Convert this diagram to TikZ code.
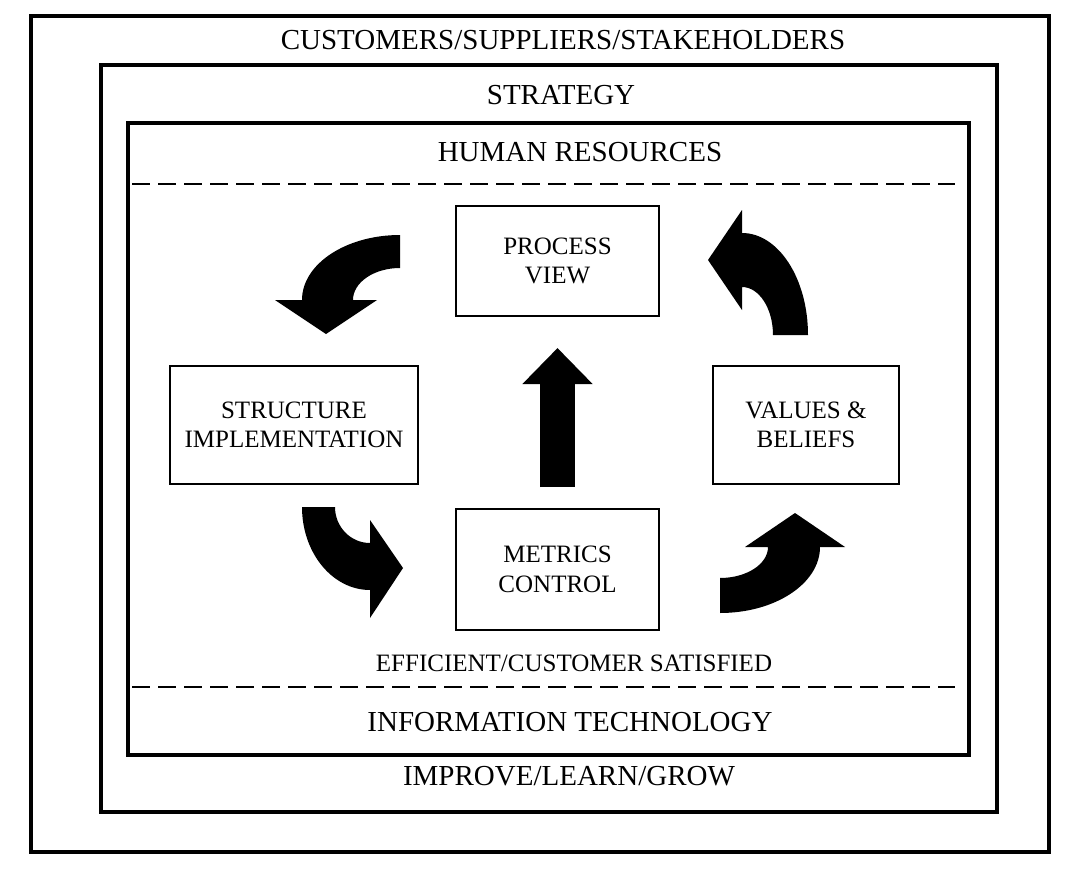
\documentclass[tikz,border=0pt]{standalone}
\usepackage{fontspec}
\setmainfont{Liberation Serif}
\usepackage{tikz}
\usetikzlibrary{arrows.meta}

\tikzset{
  frame/.style = {line width=3.5pt},
  stage/.style = {draw, line width=2pt, align=center, inner sep=0pt,
    font=\fontsize{25}{29.5}\selectfont},
  layer/.style = {font=\fontsize{29}{33}\selectfont},
  divider/.style = {line width=2.5pt, dash pattern=on 18pt off 8pt},
  turn/.style = {fill=black}
}

\begin{document}
\begin{tikzpicture}[x=1pt,y=-1pt]
\useasboundingbox[fill=white] (0,0) rectangle (1074,875);

% nested frames
\draw[frame] (31,16) rectangle (1049,852);
\draw[frame] (101,65) rectangle (997,812);
\draw[frame] (128,123) rectangle (969,755);
\draw[divider] (132,184) -- (955,184);
\draw[divider] (132,687) -- (955,687);

% frame labels
\node[layer] (customers) at (563,40) {CUSTOMERS/SUPPLIERS/STAKEHOLDERS};
\node[layer] (strategy) at (561,95) {STRATEGY};
\node[layer] (humanres) at (580,152) {HUMAN RESOURCES};
\node[stage, draw=none] (efficient) at (574,663) {EFFICIENT/CUSTOMER SATISFIED};
\node[layer] (infotech) at (570,722) {INFORMATION TECHNOLOGY};
\node[layer] (improve) at (569,776) {IMPROVE/LEARN/GROW};

% cycle boxes
\node[stage, minimum width=203pt, minimum height=110pt] (process) at (557.5,261) {PROCESS\\VIEW};
\node[stage, minimum width=248pt, minimum height=118pt] (structure) at (294,425) {STRUCTURE\\IMPLEMENTATION};
\node[stage, minimum width=186pt, minimum height=118pt] (values) at (806,425) {VALUES \&\\BELIEFS};
\node[stage, minimum width=203pt, minimum height=121pt] (metrics) at (557.5,569.5) {METRICS\\CONTROL};

% straight arrow
\draw[line width=35pt, -{Triangle[length=36pt,width=68pt]}, shorten >=31pt]
  ([yshift=21pt]metrics.north) -- (process.south);

% curved arrows
\fill[turn] (400,235) arc[start angle=270, end angle=180, x radius=98, y radius=65]
  -- (275,300) -- (326,334) -- (377,300) -- (353,300)
  arc[start angle=180, end angle=270, x radius=47, y radius=32] -- cycle;
\fill[turn] (808,335) arc[start angle=0, end angle=-90, x radius=66, y radius=102]
  -- (742,210) -- (708,260) -- (742,310) -- (742,287)
  arc[start angle=-90, end angle=0, x radius=31, y radius=48] -- cycle;
\fill[turn] (302,507) arc[start angle=180, end angle=90, x radius=68, y radius=83]
  -- (370,618) -- (403,568) -- (370,520) -- (370,543)
  arc[start angle=90, end angle=180, x radius=35, y radius=36] -- cycle;
\fill[turn] (720,613) arc[start angle=90, end angle=0, x radius=100, y radius=66]
  -- (845,547) -- (795,513) -- (745,547) -- (768,547)
  arc[start angle=0, end angle=90, x radius=48, y radius=31] -- cycle;
\end{tikzpicture}
\end{document}
